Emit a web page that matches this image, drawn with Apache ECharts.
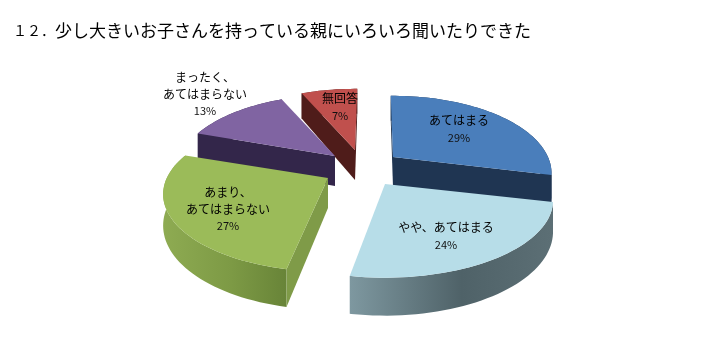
<!DOCTYPE html>
<html>
<head>
<meta charset="utf-8">
<style>
  html, body { margin: 0; padding: 0; background: #fff; }
  #chart { width: 711px; height: 351px; }
</style>
<script src="https://cdn.jsdelivr.net/npm/echarts@6/dist/echarts.min.js"></script>
</head>
<body>
<div id="chart"></div>
<script>
const titleNo = '１２．';
const titleText = '少し大きいお子さんを持っている親にいろいろ聞いたりできた';
const categories = ['あてはまる', 'やや、あてはまる', 'あまり、\nあてはまらない', 'まったく、\nあてはまらない', '無回答'];
const values = [29, 24, 27, 13, 7];

// 3D look of the pie
const centerX = 358;
const centerY = 168;
const radius = 155;
const squash = 74;       // vertical radius
const perspective = 0.21;
const depth = 30;

// per slice layout, same order as categories
const explodeX = [35, 27, -30, -23, -3];
const explodeY = [-11, 16, 10, -12, -18];
const radiusScale = [1, 1.06, 1.04, 1, 1];
const angleShift = [-1, -1, 1, 1, 1];
const labelX = [459, 446, 228, 205, 340];
const labelY = [129, 236, 209, 94, 107];
const drawOrder = [0, 4, 3, 2, 1];
const topColors = ['#4a7ebb', '#b7dde8', '#9bbb59', '#8064a2', '#c0504d'];
const wallColors = ['#1f3552', '#4f6268', '#7f9b48', '#33264a', '#4f1c1a'];
const rimLeft = ['#1f3552', '#7e98a0', '#8eab52', '#33264a', '#4f1c1a'];
const rimMid = ['#1f3552', '#4f6268', '#7d9a45', '#33264a', '#4f1c1a'];
const rimRight = ['#1f3552', '#5c6f75', '#688438', '#33264a', '#4f1c1a'];

const total = values.reduce((a, b) => a + b, 0);

// project a point of the pie's circle to the screen, relative to the apex
function project(deg, apexX, apexY, scale) {
  const rad = deg * Math.PI / 180;
  const d = 1 + perspective * Math.cos(rad);
  return {
    x: apexX + scale * radius * Math.sin(rad) / d,
    y: apexY - squash * Math.cos(rad) / d,
    drop: depth / d
  };
}

function renderSlice(params, api) {
  const i = params.dataIndex;
  const before = values.slice(0, i).reduce((a, b) => a + b, 0);
  const from = angleShift[i] + before / total * 360;
  const to = from + api.value(0) / total * 360;
  const ax = centerX + explodeX[i];
  const ay = centerY + explodeY[i];
  const z = drawOrder[i] * 10;

  const arc = [];
  for (let a = from; a < to; a += 2) arc.push(project(a, ax, ay, radiusScale[i]));
  arc.push(project(to, ax, ay, radiusScale[i]));
  const mid = project((from + to) / 2, ax, ay, radiusScale[i]);

  const top = [[ax, ay]].concat(arc.map((p) => [p.x, p.y]));
  const rim = arc.map((p) => [p.x, p.y]).concat(arc.slice().reverse().map((p) => [p.x, p.y + p.drop]));
  const xs = arc.map((p) => p.x);

  const children = [{
    type: 'polygon',
    z2: z,
    shape: { points: rim },
    style: {
      fill: {
        type: 'linear', global: true,
        x: Math.min.apply(null, xs), y: 0, x2: Math.max.apply(null, xs), y2: 0,
        colorStops: [
          { offset: 0, color: rimLeft[i] },
          { offset: 0.55, color: rimMid[i] },
          { offset: 1, color: rimRight[i] }
        ]
      }
    }
  }];

  // side walls, only the ones that face the viewer
  [arc[0], arc[arc.length - 1]].forEach((p) => {
    const lineY = ay + (p.y - ay) * (mid.x - ax) / (p.x - ax);
    if (mid.y < lineY) {
      children.push({
        type: 'polygon',
        z2: z + 1,
        shape: { points: [[ax, ay], [p.x, p.y], [p.x, p.y + p.drop], [ax, ay + depth]] },
        style: { fill: wallColors[i] }
      });
    }
  });

  children.push({
    type: 'polygon',
    z2: z + 2,
    shape: { points: top },
    style: { fill: topColors[i] }
  });

  const lines = categories[i].split('\n').map((s) => '{n|' + s + '}');
  lines.push('{p|' + api.value(0) + '%}');
  children.push({
    type: 'text',
    z2: 100,
    style: {
      x: labelX[i],
      y: labelY[i],
      text: lines.join('\n'),
      align: 'center',
      verticalAlign: 'middle',
      rich: {
        n: { fontSize: 12, lineHeight: 17, fill: '#000', fontFamily: 'Noto Sans CJK JP' },
        p: { fontSize: 11, lineHeight: 17, fill: '#111', fontFamily: 'Noto Sans CJK JP' }
      }
    }
  });
  return { type: 'group', children: children };
}

const chart = echarts.init(document.getElementById('chart'));
chart.setOption({
  animation: false,
  backgroundColor: '#fff',
  title: {
    left: 8,
    top: 17,
    text: '{no|' + titleNo + '}{main|' + titleText + '}',
    textStyle: {
      rich: {
        no: { fontSize: 14, color: '#000', fontWeight: 'normal', fontFamily: 'Noto Sans CJK JP' },
        main: { fontSize: 17, color: '#000', fontWeight: 'normal', fontFamily: 'Noto Sans CJK JP' }
      }
    }
  },
  series: [{
    type: 'custom',
    coordinateSystem: 'none',
    silent: true,
    clip: false,
    renderItem: renderSlice,
    data: values.map((v) => [v])
  }]
});
</script>
</body>
</html>
